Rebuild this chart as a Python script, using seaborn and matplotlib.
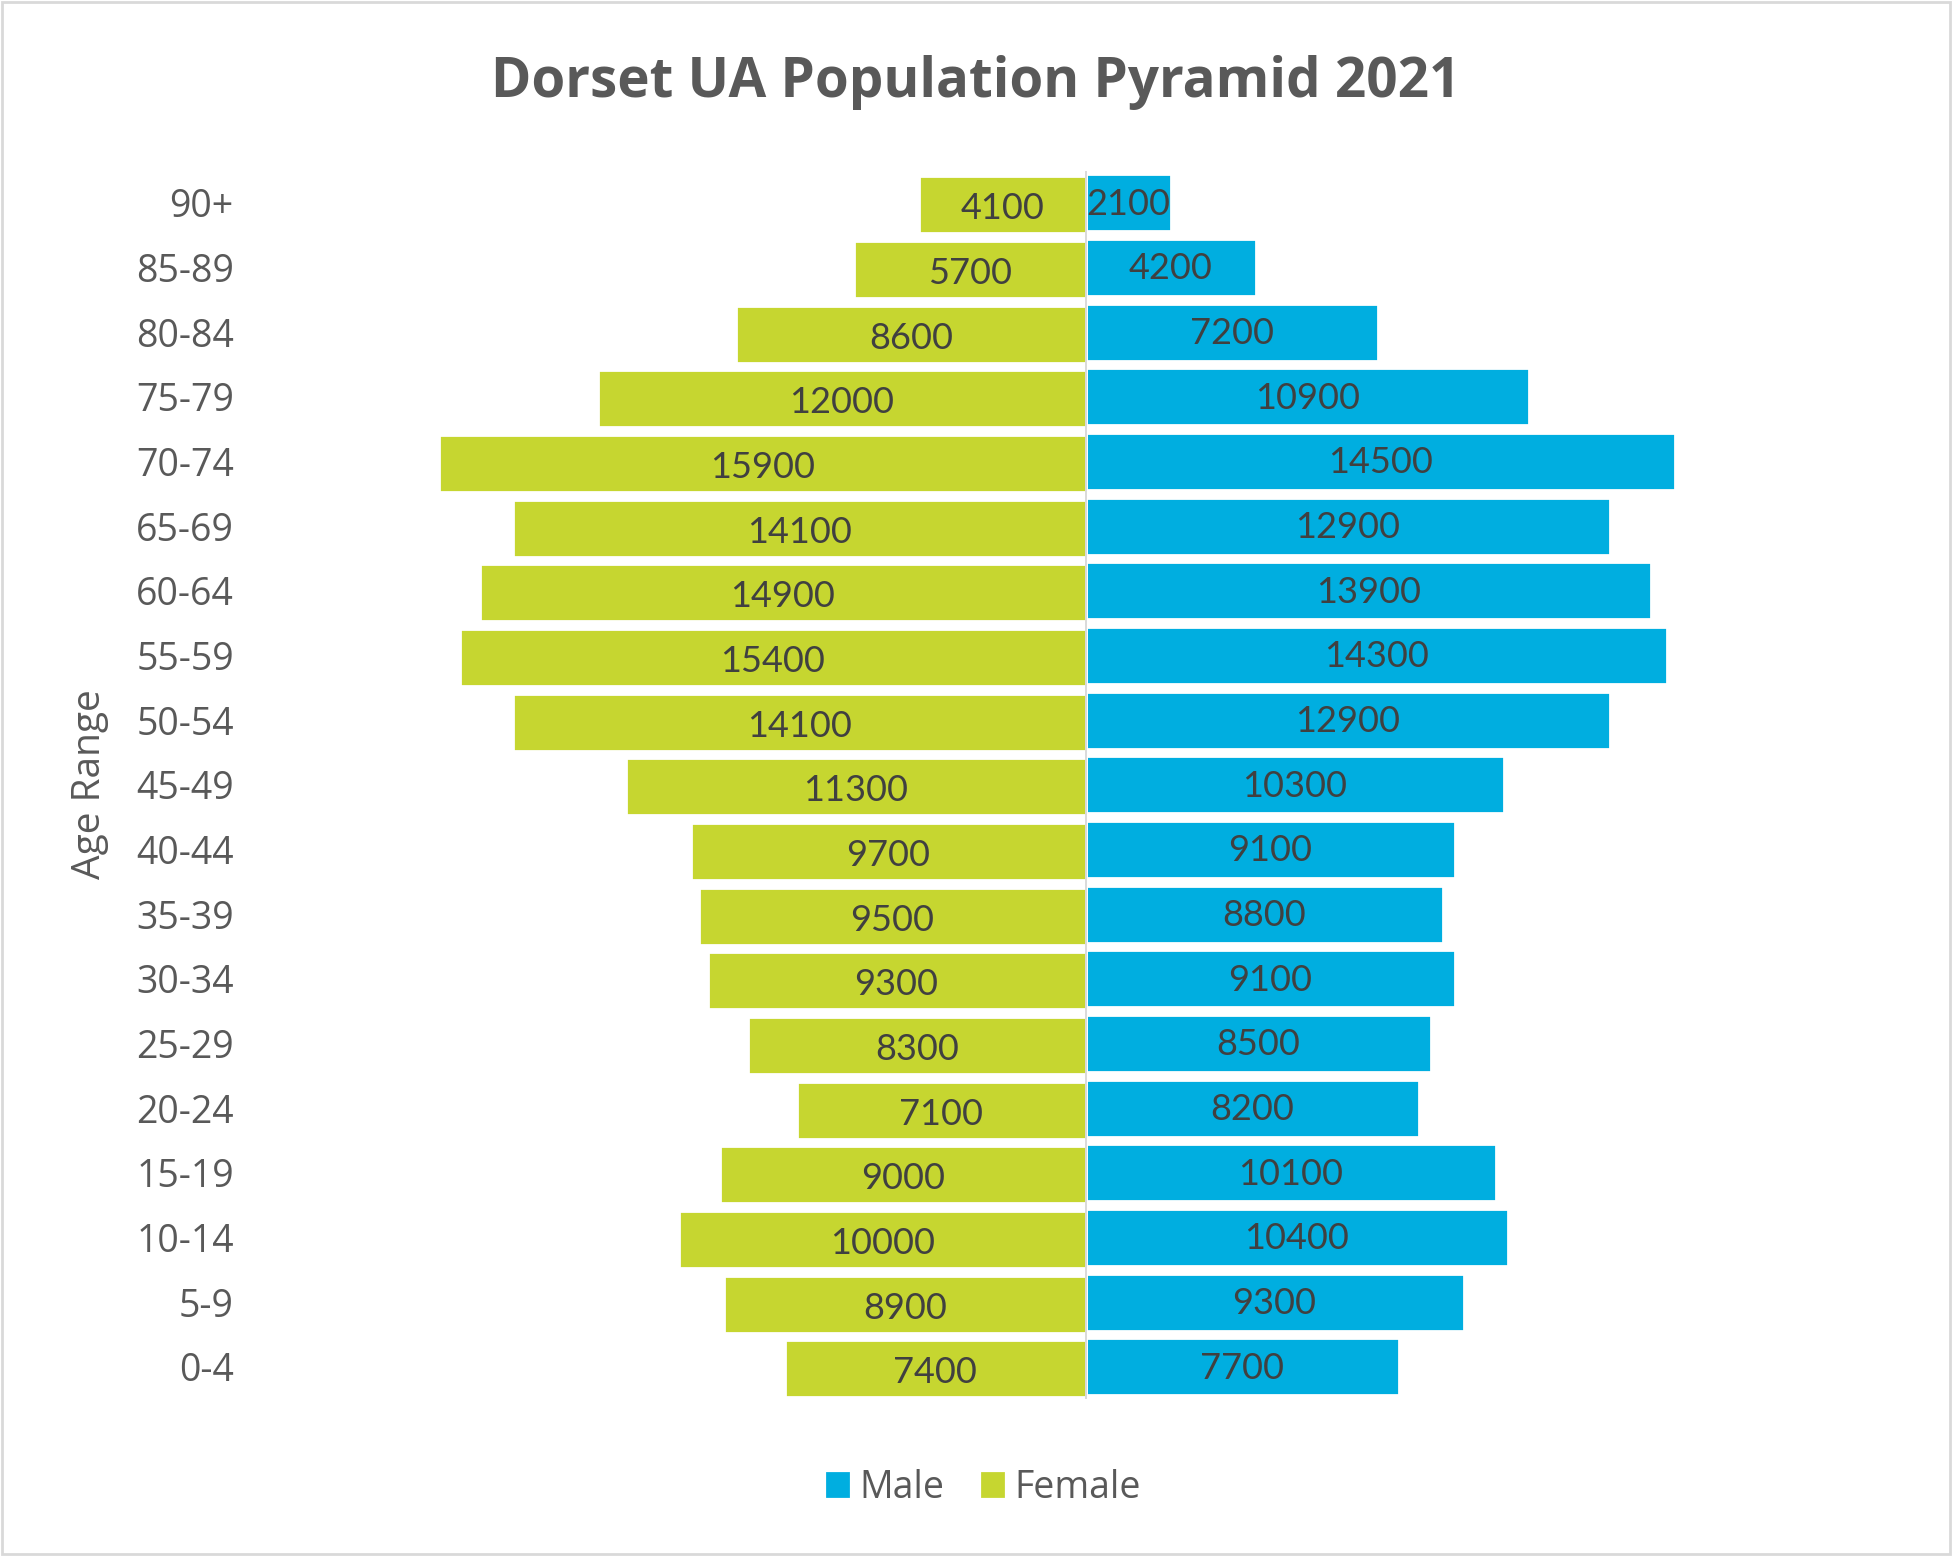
import pandas as pd
import matplotlib.pyplot as plt
import matplotlib.patches as mpatches
import seaborn as sns

# age bands, top of the pyramid first
age_bands = ['90+', '85-89', '80-84', '75-79', '70-74', '65-69', '60-64', '55-59', '50-54',
             '45-49', '40-44', '35-39', '30-34', '25-29', '20-24', '15-19', '10-14', '5-9', '0-4']
male = [2100, 4200, 7200, 10900, 14500, 12900, 13900, 14300, 12900,
        10300, 9100, 8800, 9100, 8500, 8200, 10100, 10400, 9300, 7700]
female = [4100, 5700, 8600, 12000, 15900, 14100, 14900, 15400, 14100,
          11300, 9700, 9500, 9300, 8300, 7100, 9000, 10000, 8900, 7400]

blue = '#00AEE0'
green = '#C6D630'
grey_txt = '#595959'

sns.set_theme(style='white')
plt.rcParams['font.family'] = ['Open Sans', 'DejaVu Sans']

df = pd.DataFrame({
    'Age Range': age_bands * 2,
    'Population': male + [-v for v in female],
    'Sex': ['Male'] * len(male) + ['Female'] * len(female),
})

fig = plt.figure(figsize=(9.76, 7.78), dpi=200)
ax = fig.add_axes([0.1397, 0.1008, 0.8329, 0.7896])

sns.barplot(data=df, x='Population', y='Age Range', hue='Sex', order=age_bands,
            hue_order=['Male', 'Female'], palette=[blue, green], dodge=False,
            width=0.88, orient='h', ax=ax, legend=False, saturation=1)

# female bars sit a touch lower than the male ones, like in the Excel chart
for p in ax.containers[1]:
    p.set_y(p.get_y() + 0.03)

# data labels, shown as positive numbers
for cont, vals, dy in zip(ax.containers, [male, female], [-0.5, -1.5]):
    anns = ax.bar_label(cont, labels=[str(v) for v in vals], label_type='center',
                        fontsize=13, color='#404040', family=['Lato', 'DejaVu Sans'])
    for a in anns:
        a.xyann = (0, dy)

ax.axvline(0, color='#D9D9D9', lw=0.7, zorder=5)
ax.set_xlim(-20000, 20000)
ax.set_xticks([])
ax.set_xlabel('')
ax.set_ylabel('')
for s in ax.spines.values():
    s.set_visible(False)
ax.tick_params(axis='y', length=0, pad=14, labelsize=13.5, labelcolor=grey_txt)

fig.text(0.5, 0.947, 'Dorset UA Population Pyramid 2021', ha='center', va='center',
         fontsize=19.7, fontweight='bold', color=grey_txt)
fig.text(0.046, 0.496, 'Age Range', ha='center', va='center', rotation=90,
         fontsize=14, color=grey_txt)

handles = [mpatches.Patch(color=blue, label='Male'),
           mpatches.Patch(color=green, label='Female')]
fig.legend(handles=handles, loc='center', bbox_to_anchor=(0.504, 0.044), ncol=2,
           frameon=False, fontsize=13.5, handlelength=0.56, handleheight=0.56,
           handletextpad=0.3, columnspacing=1.0, labelcolor=grey_txt)

fig.patches.append(mpatches.Rectangle((0.001, 0.001), 0.998, 0.998, transform=fig.transFigure,
                                      fill=False, edgecolor='#D9D9D9', lw=1))

fig.savefig('out.png', dpi=200)
